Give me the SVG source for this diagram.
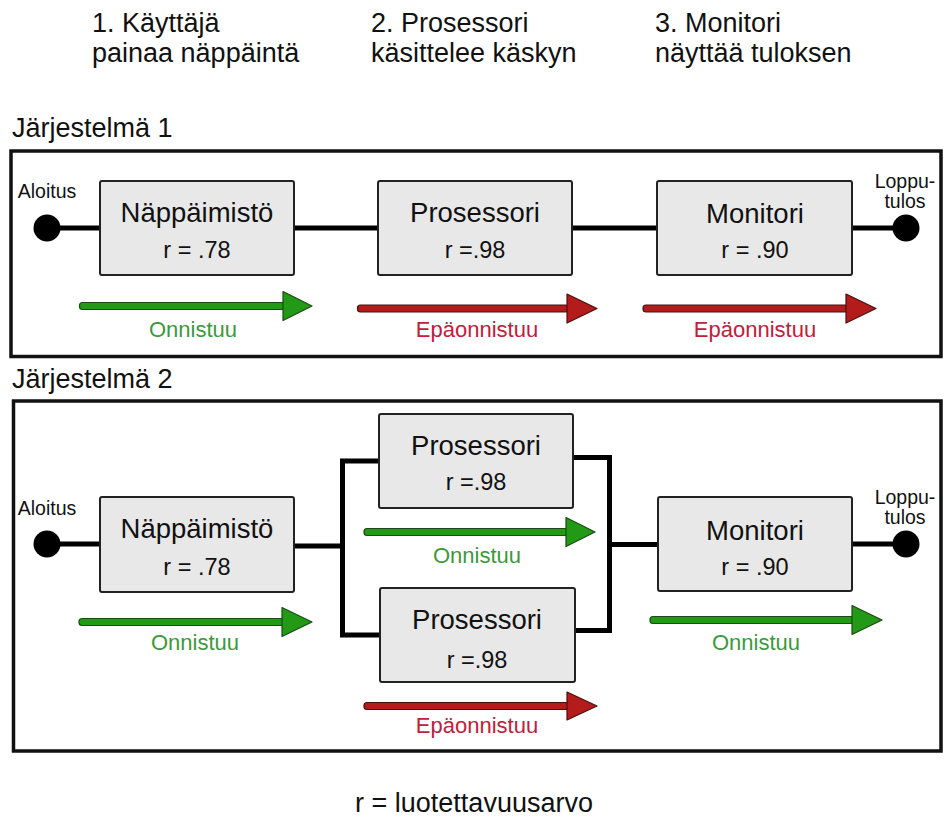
<svg xmlns="http://www.w3.org/2000/svg" width="944" height="818" viewBox="0 0 944 818">
  <style>
    text { font-family: "Liberation Sans", Arial, sans-serif; fill: #111; }
    .head { font-size: 27px; }
    .title { font-size: 27.5px; text-anchor: middle; }
    .rval { font-size: 23.5px; text-anchor: middle; }
    .term { font-size: 19.5px; text-anchor: middle; }
    .ok { font-size: 22px; text-anchor: middle; fill: #3a9a3a; }
    .fail { font-size: 22px; text-anchor: middle; fill: #c0203a; }
    .frame { fill: none; stroke: #111; stroke-width: 3.5; }
    .box { fill: #e8e8e8; stroke: #222; stroke-width: 2; }
    .wire { fill: none; stroke: #000; stroke-width: 5; }
    .dot { fill: #000; }
    .arr-ok { fill: #229a16; stroke: #1c4a14; stroke-width: 1.2; stroke-linejoin: round; }
    .arr-fail { fill: #b41c1c; stroke: #4a1010; stroke-width: 1.2; stroke-linejoin: round; }
  </style>

  <!-- step captions -->
  <g id="captions">
    <text class="head" x="92" y="32">1. Käyttäjä</text>
    <text class="head" x="92" y="62">painaa näppäintä</text>
    <text class="head" x="371" y="32">2. Prosessori</text>
    <text class="head" x="371" y="62">käsittelee käskyn</text>
    <text class="head" x="655" y="32">3. Monitori</text>
    <text class="head" x="655" y="62">näyttää tuloksen</text>
  </g>

  <!-- system frames -->
  <g id="system1-frame">
    <text class="head" x="12" y="137">Järjestelmä 1</text>
    <rect class="frame" x="11" y="151" width="930" height="205.5"/>
  </g>
  <g id="system2-frame">
    <text class="head" x="12" y="388">Järjestelmä 2</text>
    <rect class="frame" x="13.5" y="401" width="927.5" height="350"/>
  </g>

  <!-- connectors -->
  <g id="connectors">
    <!-- system 1: series chain -->
    <path class="wire" d="M47 228 H100 M294 228 H378 M572 228 H657 M852 228 H906"/>
    <!-- system 2: keyboard, two parallel processors, monitor -->
    <path class="wire" d="M47 544 H100 M294 546 H342.5"/>
    <path class="wire" d="M379 461 H342.5 V635 H380"/>
    <path class="wire" d="M573 457.5 H609.5 V630.5 H575"/>
    <path class="wire" d="M609.5 544.5 H658 M852 544 H906"/>
  </g>

  <!-- terminals -->
  <g id="s1-start">
    <circle class="dot" cx="47" cy="228" r="13.5"/>
    <text class="term" x="47" y="198">Aloitus</text>
  </g>
  <g id="s1-end">
    <circle class="dot" cx="906" cy="228" r="13.5"/>
    <text class="term" x="905" y="188">Loppu-</text>
    <text class="term" x="905" y="208">tulos</text>
  </g>
  <g id="s2-start">
    <circle class="dot" cx="47" cy="544" r="13.5"/>
    <text class="term" x="47" y="515">Aloitus</text>
  </g>
  <g id="s2-end">
    <circle class="dot" cx="906" cy="544" r="13.5"/>
    <text class="term" x="905" y="504">Loppu-</text>
    <text class="term" x="905" y="524">tulos</text>
  </g>

  <!-- system 1 nodes -->
  <g id="s1-keyboard">
    <rect class="box" x="100" y="181" width="194" height="94" rx="2"/>
    <text class="title" x="197" y="222">Näppäimistö</text>
    <text class="rval" x="197" y="258">r = .78</text>
  </g>
  <g id="s1-processor">
    <rect class="box" x="378" y="181" width="194" height="94" rx="2"/>
    <text class="title" x="475" y="222">Prosessori</text>
    <text class="rval" x="475" y="258">r =.98</text>
  </g>
  <g id="s1-monitor">
    <rect class="box" x="657" y="181" width="195" height="94" rx="2"/>
    <text class="title" x="755" y="223">Monitori</text>
    <text class="rval" x="755" y="258">r = .90</text>
  </g>

  <!-- system 2 nodes -->
  <g id="s2-keyboard">
    <rect class="box" x="100" y="497" width="194" height="95" rx="2"/>
    <text class="title" x="197" y="538">Näppäimistö</text>
    <text class="rval" x="197" y="575">r = .78</text>
  </g>
  <g id="s2-processor-a">
    <rect class="box" x="379" y="414" width="194" height="94" rx="2"/>
    <text class="title" x="476" y="455">Prosessori</text>
    <text class="rval" x="476" y="490">r =.98</text>
  </g>
  <g id="s2-processor-b">
    <rect class="box" x="380" y="588" width="195" height="94" rx="2"/>
    <text class="title" x="477" y="629">Prosessori</text>
    <text class="rval" x="477" y="668">r =.98</text>
  </g>
  <g id="s2-monitor">
    <rect class="box" x="658" y="497" width="194" height="94" rx="2"/>
    <text class="title" x="755" y="540">Monitori</text>
    <text class="rval" x="755" y="575">r = .90</text>
  </g>

  <!-- outcome arrows: system 1 -->
  <g id="s1-outcome-keyboard">
    <rect class="arr-ok" x="79.5" y="302.5" width="205" height="7" rx="3"/>
    <polygon class="arr-ok" points="283,291.5 312,306 283,320.5"/>
    <text class="ok" x="193" y="337">Onnistuu</text>
  </g>
  <g id="s1-outcome-processor">
    <rect class="arr-fail" x="357.5" y="305" width="211" height="7" rx="3"/>
    <polygon class="arr-fail" points="567,294 597,308.5 567,323"/>
    <text class="fail" x="477" y="337">Epäonnistuu</text>
  </g>
  <g id="s1-outcome-monitor">
    <rect class="arr-fail" x="643" y="305" width="205" height="7" rx="3"/>
    <polygon class="arr-fail" points="846,294 876,308.5 846,323"/>
    <text class="fail" x="755" y="337">Epäonnistuu</text>
  </g>

  <!-- outcome arrows: system 2 -->
  <g id="s2-outcome-keyboard">
    <rect class="arr-ok" x="79" y="618.5" width="205" height="7" rx="3"/>
    <polygon class="arr-ok" points="282,607.5 312,622 282,636.5"/>
    <text class="ok" x="195" y="650">Onnistuu</text>
  </g>
  <g id="s2-outcome-processor-a">
    <rect class="arr-ok" x="364" y="528.5" width="204" height="7" rx="3"/>
    <polygon class="arr-ok" points="566,517.5 595,532 566,546.5"/>
    <text class="ok" x="477" y="563">Onnistuu</text>
  </g>
  <g id="s2-outcome-processor-b">
    <rect class="arr-fail" x="364" y="702.5" width="205" height="7" rx="3"/>
    <polygon class="arr-fail" points="567,692 597,706 567,720"/>
    <text class="fail" x="477" y="733">Epäonnistuu</text>
  </g>
  <g id="s2-outcome-monitor">
    <rect class="arr-ok" x="650" y="616.5" width="204" height="7" rx="3"/>
    <polygon class="arr-ok" points="852,605.5 882,620 852,634.5"/>
    <text class="ok" x="756" y="650">Onnistuu</text>
  </g>

  <!-- legend -->
  <g id="legend">
    <text class="head" x="474" y="812" text-anchor="middle">r = luotettavuusarvo</text>
  </g>
</svg>
